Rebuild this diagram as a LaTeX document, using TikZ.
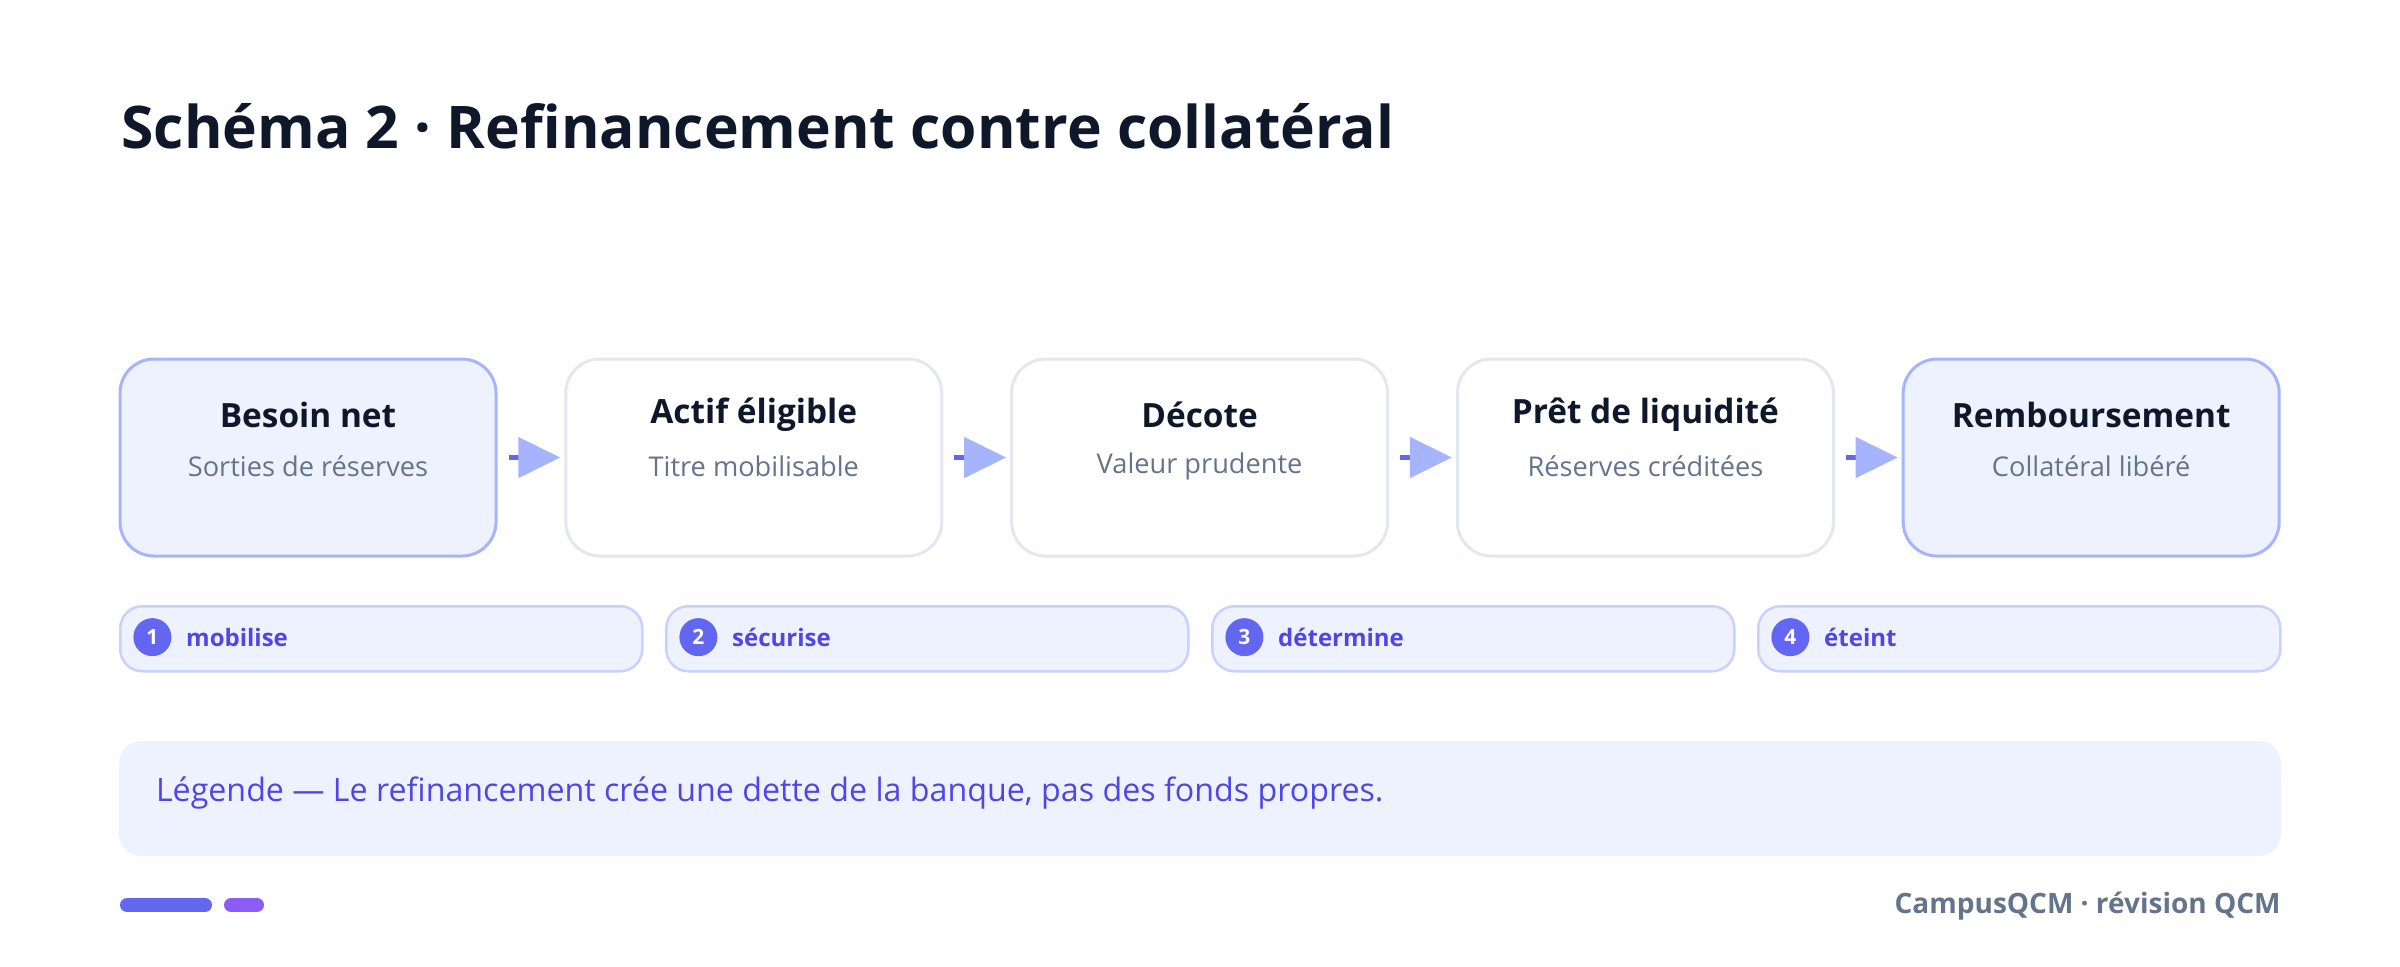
\documentclass[tikz,border=0pt]{standalone}
\usepackage{fontspec}
\setmainfont{Open Sans}
\usetikzlibrary{positioning,calc,arrows.meta}

\definecolor{inkdark}{HTML}{0F172A}
\definecolor{inkgray}{HTML}{64748B}
\definecolor{indigo}{HTML}{6366F1}
\definecolor{indigodeep}{HTML}{4F46E5}
\definecolor{periwinkle}{HTML}{A5B4FC}
\definecolor{lavender}{HTML}{EEF2FF}
\definecolor{lavenderline}{HTML}{C7D2FE}
\definecolor{boxline}{HTML}{E2E8F0}
\definecolor{violet}{HTML}{8B5CF6}

\begin{document}
\begin{tikzpicture}[x=0.5pt,y=-0.5pt,node distance=33.4pt]
\tikzstyle{stage}=[draw=boxline,line width=1.5pt,fill=white,rounded corners=17pt,minimum width=188pt,minimum height=98.5pt]
  \tikzstyle{keystage}=[stage,draw=periwinkle,fill=lavender]
  \tikzstyle{stagetitle}=[font=\bfseries\fontsize{16.7}{20}\selectfont,text=inkdark]
  \tikzstyle{stagesub}=[font=\fontsize{13.6}{16}\selectfont,text=inkgray]
  \tikzstyle{pill}=[draw=lavenderline,line width=1.25pt,fill=lavender,rounded corners=11pt,minimum width=261pt,minimum height=32.5pt]
  \tikzstyle{badge}=[circle,fill=indigo,text=white,inner sep=0pt,minimum size=19pt,font=\bfseries\fontsize{10.5}{12}\selectfont]
  \tikzstyle{pilltext}=[font=\bfseries\fontsize{12}{14}\selectfont,text=indigodeep,inner sep=0pt]
  \tikzstyle{flow}=[-{Triangle[length=21pt,width=20pt,color=periwinkle]},draw=indigo,line width=2.5pt,shorten <=5.5pt,shorten >=2pt]
%
\useasboundingbox (0,0) rectangle (2400,966);
\node[anchor=base west,inner sep=0pt,font=\bfseries\fontsize{29.4}{35}\selectfont,text=inkdark] (titre) at (121,148) {Schéma 2 · Refinancement contre collatéral};
%
\node[keystage] (besoin) at (308,457.5) {};
  \node[stage,right=of besoin] (actif) {};
  \node[stage,right=of actif] (decote) {};
  \node[stage,right=of decote] (pret) {};
  \node[keystage,right=of pret] (remb) {};
  \node[stagetitle] (besoin-t) at ([yshift=-28.5pt]besoin.north) {Besoin net};
  \node[stagesub] (besoin-s) at ([yshift=-54.5pt]besoin.north) {Sorties de réserves};
  \node[stagetitle] (actif-t) at ([yshift=-28.5pt]actif.north) {Actif éligible};
  \node[stagesub] (actif-s) at ([yshift=-54.5pt]actif.north) {Titre mobilisable};
  \node[stagetitle] (decote-t) at ([yshift=-28.5pt]decote.north) {Décote};
  \node[stagesub] (decote-s) at ([yshift=-54.5pt]decote.north) {Valeur prudente};
  \node[stagetitle] (pret-t) at ([yshift=-28.5pt]pret.north) {Prêt de liquidité};
  \node[stagesub] (pret-s) at ([yshift=-54.5pt]pret.north) {Réserves créditées};
  \node[stagetitle] (remb-t) at ([yshift=-28.5pt]remb.north) {Remboursement};
  \node[stagesub] (remb-s) at ([yshift=-54.5pt]remb.north) {Collatéral libéré};

  \path (besoin.east) edge[flow] (actif.west);
  \path (actif.east) edge[flow] (decote.west);
  \path (decote.east) edge[flow] (pret.west);
  \path (pret.east) edge[flow] (remb.west);
%
\node[pill,anchor=north west] (mob) at (119,605) {};
  \node[pill,right=10.75pt of mob] (secu) {};
  \node[pill,right=10.75pt of secu] (deter) {};
  \node[pill,right=10.75pt of deter] (etei) {};
  \node[badge,right=7pt of mob.west,yshift=0.8pt] (mob-n) {1};
  \node[pilltext,right=7pt of mob-n] (mob-l) {mobilise};
  \node[badge,right=7pt of secu.west,yshift=0.8pt] (secu-n) {2};
  \node[pilltext,right=7pt of secu-n] (secu-l) {sécurise};
  \node[badge,right=7pt of deter.west,yshift=0.8pt] (deter-n) {3};
  \node[pilltext,right=7pt of deter-n] (deter-l) {détermine};
  \node[badge,right=7pt of etei.west,yshift=0.8pt] (etei-n) {4};
  \node[pilltext,right=7pt of etei-n] (etei-l) {éteint};
%
\node[fill=lavender,rounded corners=11pt,minimum width=1081pt,minimum height=57.5pt] (legende) at (1200,798.5) {};
  \node[right=18.5pt of legende.west,yshift=2.5pt,inner sep=0pt,font=\fontsize{16.1}{19}\selectfont,text=indigodeep] (legende-t) {Légende — Le refinancement crée une dette de la banque, pas des fonds propres.};
%
\draw[indigo,line width=7pt,line cap=round] (127,905) -- (205,905);
  \draw[violet,line width=7pt,line cap=round] (231,905) -- (257,905);
  \node[anchor=east,inner sep=0pt,font=\bfseries\fontsize{14}{16}\selectfont,text=inkgray] (credit) at (2281,906) {CampusQCM · révision QCM};
\end{tikzpicture}
\end{document}
